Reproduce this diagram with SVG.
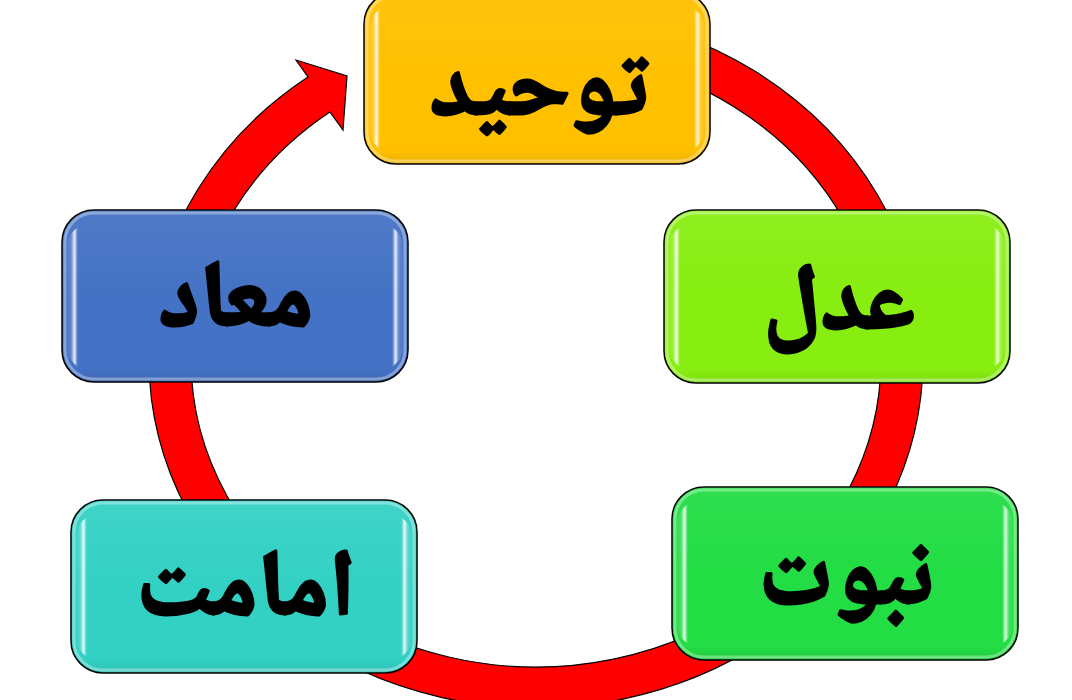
<svg xmlns="http://www.w3.org/2000/svg" width="1072" height="700" viewBox="0 0 1072 700">
<defs>
<style>
.box{stroke:#000;stroke-width:1.5}
.bevel{fill:none;stroke:#fff;stroke-opacity:0.35;stroke-width:3}
.gloss{fill:url(#gl)}
.shade{fill:url(#sh)}
.lbl{font-family:"Noto Naskh Arabic","Noto Sans Arabic","DejaVu Sans",sans-serif;font-weight:bold;font-size:94px;fill:#000;stroke:#000;stroke-width:3;stroke-linejoin:round;text-anchor:middle}
.ring{fill:#ff0000;stroke:#000;stroke-width:1.2;stroke-linejoin:miter}
</style>
<linearGradient id="gl" x1="0" y1="0" x2="1" y2="0">
<stop offset="0" stop-color="#fff" stop-opacity="0"/>
<stop offset="0.015" stop-color="#fff" stop-opacity="0.15"/>
<stop offset="0.025" stop-color="#fff" stop-opacity="0.85"/>
<stop offset="0.035" stop-color="#fff" stop-opacity="0"/>
<stop offset="0.965" stop-color="#fff" stop-opacity="0"/>
<stop offset="0.975" stop-color="#fff" stop-opacity="0.85"/>
<stop offset="0.985" stop-color="#fff" stop-opacity="0.15"/>
<stop offset="1" stop-color="#fff" stop-opacity="0"/>
</linearGradient>
<linearGradient id="sh" x1="0" y1="0" x2="0" y2="1">
<stop offset="0" stop-color="#fff" stop-opacity="0.06"/>
<stop offset="0.5" stop-color="#fff" stop-opacity="0"/>
<stop offset="0.92" stop-color="#000" stop-opacity="0"/>
<stop offset="1" stop-color="#000" stop-opacity="0.08"/>
</linearGradient>
</defs>
<rect width="1072" height="700" fill="#fff"/>
<g id="connectors">
<path class="ring" d="M 600 14.8 A 387 349 0 1 1 308 77 L 296 60 L 347 76 L 343 130 L 329.9 112 A 345 308 0 1 0 600 56.35 Z"/>
</g>
<g id="node-tawhid">
<rect class="box" x="364" y="-8" width="346" height="172" rx="32" fill="#ffc000"/>
<rect class="shade" x="364" y="-8" width="346" height="172" rx="32"/>
<rect class="gloss" x="368" y="4" width="338" height="150" rx="28"/>
<rect class="bevel" x="367" y="-5" width="340" height="166" rx="29"/>
<text class="lbl" x="539" y="115">توحید</text>
</g>
<g id="node-adl">
<rect class="box" x="664" y="210" width="346" height="173" rx="32" fill="#88ee11"/>
<rect class="shade" x="664" y="210" width="346" height="173" rx="32"/>
<rect class="gloss" x="668" y="222" width="338" height="150" rx="28"/>
<rect class="bevel" x="667" y="213" width="340" height="167" rx="29"/>
<text class="lbl" x="839" y="329">عدل</text>
</g>
<g id="node-nobowat">
<rect class="box" x="672" y="487" width="346" height="173" rx="32" fill="#22dd44"/>
<rect class="shade" x="672" y="487" width="346" height="173" rx="32"/>
<rect class="gloss" x="676" y="499" width="338" height="150" rx="28"/>
<rect class="bevel" x="675" y="490" width="340" height="167" rx="29"/>
<text class="lbl" x="846" y="604">نبوت</text>
</g>
<g id="node-imamat">
<rect class="box" x="71" y="500" width="346" height="173" rx="32" fill="#33d1c4"/>
<rect class="shade" x="71" y="500" width="346" height="173" rx="32"/>
<rect class="gloss" x="75" y="512" width="338" height="150" rx="28"/>
<rect class="bevel" x="74" y="503" width="340" height="167" rx="29"/>
<text class="lbl" x="246" y="615">امامت</text>
</g>
<g id="node-maad">
<rect class="box" x="62" y="210" width="346" height="172" rx="32" fill="#4472c4"/>
<rect class="shade" x="62" y="210" width="346" height="172" rx="32"/>
<rect class="gloss" x="66" y="222" width="338" height="150" rx="28"/>
<rect class="bevel" x="65" y="213" width="340" height="166" rx="29"/>
<text class="lbl" x="236" y="326">معاد</text>
</g>
</svg>
